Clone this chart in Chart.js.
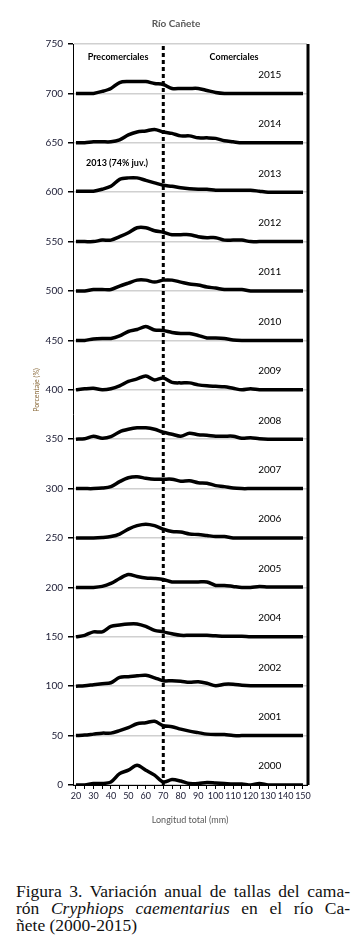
<!DOCTYPE html>
<html>
<head>
<meta charset="utf-8">
<script src="https://cdn.jsdelivr.net/npm/chart.js@4"></script>
<style>
  body { margin: 0; background: #fff; width: 362px; height: 952px; overflow: hidden; }
  #wrap { position: absolute; left: 0; top: 0; width: 362px; height: 825px; }
  #caption { position: absolute; left: 16px; top: 883px; width: 334px;
    font-family: "Liberation Serif", "DejaVu Serif", serif; font-size: 17.5px; line-height: 17px; color: #111; }
  #caption span { display: block; text-align: justify; text-align-last: justify; white-space: nowrap; }
  #caption span.last { text-align-last: left; }
</style>
</head>
<body>
<div id="wrap"><canvas id="myChart" width="362" height="825"></canvas></div>
<div id="caption">
  <span>Figura 3. Variación anual de tallas del cama-</span>
  <span>rón <i>Cryphiops caementarius</i> en el río Ca-</span>
  <span class="last">ñete (2000-2015)</span>
</div>
<script>
// longitud total (mm), one point every 5 mm
const sizes = [20,25,30,35,40,45,50,55,60,65,70,75,80,85,90,95,100,105,110,115,120,125,130,135,140,145,150];
const years = [2000,2001,2002,2004,2005,2006,2007,2008,2009,2010,2011,2012,2013,2014,2015];
const offsets = [0,50,100,150,200,250,300,350,400,450,500,550,600,650,700];

// percentage per size class
const p2000 = [0,0,1.5,1.5,3,11.5,15,20,15,10,3,5.5,4,1.5,1.5,2.5,2,1.5,1,1,0,1.5,0,0,0,0,0];
const p2001 = [0,0.5,1.5,2.5,2.5,5,8,12,13,14.5,10,9,6.5,4.5,3,1.5,1,1,0,0,0,0,0,0,0,0,0];
const p2002 = [0,0.5,1.5,2.5,3.5,9,9.5,10.5,11,8.5,5.5,5.5,5,4,4.5,3,0.5,2,2,1,0.5,0.5,0.5,0.5,0.5,0.5,0.5];
const p2004 = [0,1.5,5,5,10.5,12,13,13,10.5,6.5,5,3,1.5,1.5,1.5,1.5,1,0.5,0.5,0.5,0,0,0,0,0,0,0];
const p2005 = [0,0,0,1,4,9,13,11,9.5,9,8,5.5,5.5,5.5,5.5,5.5,2,2,1,0,0,1,0.5,0.5,0.5,0.5,0.5];
const p2006 = [0,0,0,0.5,1.5,4,9,12.5,14,12.5,9,6.5,6,4,3.5,2.5,1.5,1.5,0,0,0,0,0,0,0,0,0];
const p2007 = [0,0,0,0.5,2,7,11,12,10.5,9.5,9.5,9.5,7.5,8,6,5.5,3,2,0.5,0,0,0,0,0,0,0,0];
const p2008 = [0,0.5,3,1,2.5,7.5,10,11.5,11.5,10,7,5,3,6,4.5,4,3,3,3,1,1.5,0.5,0,0,0,0,0];
const p2009 = [0,1,1.5,0,1,4,8.5,11,14,10,12,7.5,7,7,5,4,3.5,3,1.5,0,1,0,0,0,0,0,0];
const p2010 = [0,0,1.5,2,2,4.5,9,11,14,10.5,10,8,7,7,5,2.5,2.5,2,0.5,0,0,0,0,0,0,0,0];
const p2011 = [0,0,1.5,1.5,1.5,5,8,11,11,9,11,11,9,7,6,4,3,1.5,1.5,1.5,0,0,0,0,0,0,0];
const p2012 = [0,0,0,1.5,1.5,5,9,14,14,11,9.5,7,7,7,5,4,4,1.5,1.5,1.5,0,0,0,0,0,0,0];
const p2013 = [1,1,1,3,6,13,14.5,14.5,12,9.5,7,6,4.5,3.5,3,3,2,2,2,2,2,1,0,0,0,0,0];
const p2014 = [0,0,1,1,1,3,8,11,12,13.5,11,9.5,7,7,5,5,4.5,2,1,0,0,0,0,0,0,0,0];
const p2015 = [0,0,0,2,5,11,12,12,12,10,9,5,5,5,5,3,1,0,0,0,0,0,0,0,0,0,0];
const series = [p2000,p2001,p2002,p2004,p2005,p2006,p2007,p2008,p2009,p2010,p2011,p2012,p2013,p2014,p2015];

const yTicks = [0,50,100,150,200,250,300,350,400,450,500,550,600,650,700,750];
const xLabels = [20,30,40,50,60,70,80,90,100,110,120,130,140,150];
const cutSize = 70; // precomerciales / comerciales

const datasets = series.map((vals, i) => ({
  label: String(years[i]),
  data: sizes.map((s, j) => ({ x: s, y: offsets[i] + vals[j] })),
  borderColor: "#000",
  borderWidth: 3.5,
  pointRadius: 0,
  tension: 0.3,
  fill: false,
}));

datasets.push({
  label: "corte",
  data: [{ x: cutSize, y: yTicks[0] }, { x: cutSize, y: yTicks[yTicks.length - 1] }],
  borderColor: "#000",
  borderWidth: 3,
  borderDash: [4, 3],
  pointRadius: 0,
  tension: 0,
});

// texts drawn on top of the plot
const decor = {
  id: "decor",
  afterDraw(chart) {
    const { ctx, chartArea, scales } = chart;
    const xs = scales.x, ys = scales.y;
    ctx.save();
    // right border
    ctx.strokeStyle = "#000";
    ctx.lineWidth = 3;
    ctx.beginPath();
    ctx.moveTo(chartArea.right + 1, chartArea.top);
    ctx.lineTo(chartArea.right + 1, chartArea.bottom);
    ctx.stroke();

    ctx.textAlign = "center";
    ctx.textBaseline = "middle";
    ctx.fillStyle = "#595959";
    ctx.font = "bold 10px Lato";
    ctx.fillText("Río Cañete", 176, 24);

    ctx.fillStyle = "#000";
    ctx.font = "bold 9px Lato";
    ctx.fillText("Precomerciales", 118, 57);
    ctx.fillText("Comerciales", 234, 57);
    ctx.fillText("2013 (74% juv.)", xs.getPixelForValue(43.5), ys.getPixelForValue(629));

    ctx.font = "10px Lato";
    years.forEach((yr, i) => {
      ctx.fillText(String(yr), xs.getPixelForValue(131), ys.getPixelForValue(offsets[i] + 19));
    });

    // y title
    ctx.save();
    ctx.translate(37, 390);
    ctx.rotate(-Math.PI / 2);
    ctx.fillStyle = "#8a6a3a";
    ctx.font = "7px Lato";
    ctx.fillText("Porcentaje (%)", 0, 0);
    ctx.restore();
    ctx.restore();
  },
};

const ctx = document.getElementById("myChart").getContext("2d");
const myChart = new Chart(ctx, {
  type: "line",
  data: { datasets },
  plugins: [decor],
  options: {
    responsive: false,
    animation: false,
    layout: { padding: { top: 44, right: 55, left: 0, bottom: 0 } },
    plugins: { legend: { display: false }, tooltip: { enabled: false } },
    scales: {
      x: {
        type: "linear",
        min: 18.3,
        max: 152.3,
        afterFit: (s) => { s.height = 40; },
        afterBuildTicks: (s) => { s.ticks = sizes.map((v) => ({ value: v })); },
        ticks: {
          autoSkip: false,
          maxRotation: 0,
          padding: 2,
          color: "#1a1a33",
          font: { family: "Lato", size: 9 },
          callback: (v) => (xLabels.includes(v) ? String(v) : ""),
        },
        grid: { drawOnChartArea: false, tickLength: 4, tickColor: "#000", tickWidth: 1 },
        border: { color: "#000", width: 1 },
        title: {
          display: true,
          text: "Longitud total (mm)",
          color: "#595959",
          font: { family: "Lato", size: 9 },
          padding: { top: 2, bottom: 0 },
        },
      },
      y: {
        min: 0,
        max: 750,
        afterFit: (s) => { s.width = 73; },
        afterBuildTicks: (s) => { s.ticks = yTicks.map((v) => ({ value: v })); },
        ticks: {
          padding: 5,
          color: "#1a1a33",
          font: { family: "Lato", size: 10 },
        },
        grid: { color: "#d0d0d0", lineWidth: 1.5, tickLength: 5, tickColor: "#000" },
        border: { color: "#000", width: 1 },
      },
    },
  },
});
</script>
</body>
</html>
